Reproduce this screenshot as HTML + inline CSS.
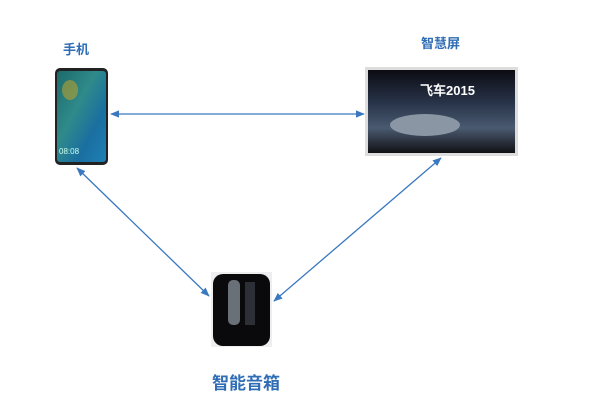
<!DOCTYPE html>
<html><head><meta charset="utf-8"><style>
body{margin:0;width:600px;height:409px;background:#fff;position:relative;overflow:hidden;font-family:"Liberation Sans","Noto Sans CJK SC",sans-serif}
.l{position:absolute;color:#2f6db5;font-weight:bold;white-space:nowrap}
</style></head><body>
<div class="l" style="left:63px;top:39px;font-size:13px">手机</div>
<div class="l" style="left:421px;top:33px;font-size:13px">智慧屏</div>
<div class="l" style="left:212px;top:369px;font-size:17px">智能音箱</div>
<svg width="600" height="409" style="position:absolute;left:0;top:0">
<defs>
<linearGradient id="ph" x1="0" y1="0" x2="1" y2="1"><stop offset="0" stop-color="#1d6a6a"/><stop offset=".4" stop-color="#2f8a8a"/><stop offset=".7" stop-color="#1a6fa0"/><stop offset="1" stop-color="#1f7fb5"/></linearGradient>
<linearGradient id="tv" x1="0" y1="0" x2="0" y2="1"><stop offset="0" stop-color="#0c0c12"/><stop offset=".4" stop-color="#28344a"/><stop offset=".7" stop-color="#4a5a70"/><stop offset="1" stop-color="#101014"/></linearGradient>
<marker id="a" viewBox="0 0 10 10" refX="9" refY="5" markerWidth="7" markerHeight="7" orient="auto-start-reverse"><path d="M0,1 L10,5 L0,9 z" fill="#3a78c0"/></marker>
</defs>
<rect x="55" y="68" width="53" height="97" rx="5" fill="#222"/>
<rect x="57" y="71" width="49" height="91" rx="3" fill="url(#ph)"/>
<ellipse cx="70" cy="90" rx="8" ry="10" fill="#b5a030" opacity=".6"/>
<text x="59" y="154" font-size="8" fill="#cfe" font-family="Liberation Sans">08:08</text>
<rect x="365" y="67" width="153" height="89" fill="#ddd"/>
<rect x="368" y="70" width="147" height="83" fill="url(#tv)"/>
<ellipse cx="425" cy="125" rx="35" ry="11" fill="#8a96a4"/>
<text x="420" y="95" font-size="13" font-weight="bold" fill="#fff" font-family="Liberation Sans">飞车2015</text>
<rect x="211" y="272" width="61" height="75" fill="#eee"/>
<rect x="213" y="274" width="57" height="72" rx="10" fill="#0a0a0c"/>
<rect x="228" y="280" width="12" height="45" rx="5" fill="#6a7078"/>
<rect x="245" y="282" width="10" height="43" fill="#2c3036"/>
<g stroke="#3a78c0" stroke-width="1.3" fill="none" marker-start="url(#a)" marker-end="url(#a)">
<line x1="111" y1="114" x2="364" y2="114"/>
<line x1="77" y1="168" x2="209" y2="296"/>
<line x1="441" y1="158" x2="274" y2="301"/>
</g>
</svg>
</body></html>
